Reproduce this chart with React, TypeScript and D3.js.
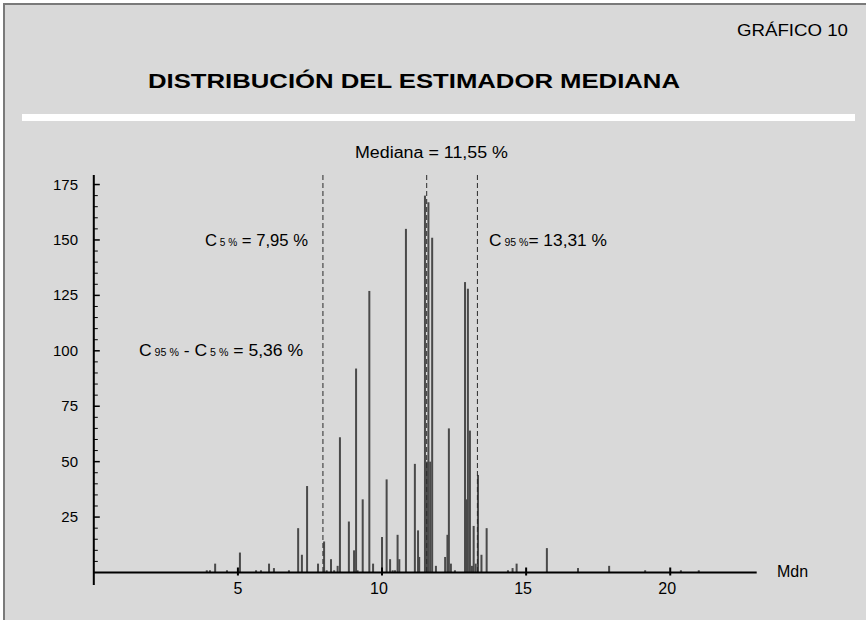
import React from "react";
import * as d3 from "d3";

// estimated medians (%) and how often each one came out
const medians = [
  3.92, 4.03, 4.21, 4.62, 5.07, 5.63, 5.8, 6.08, 6.25, 6.77, 7.09, 7.22, 7.4,
  7.78, 7.99, 8.08, 8.23, 8.34, 8.46, 8.54, 8.85, 9.03, 9.1, 9.15, 9.33, 9.56,
  9.69, 10.0, 10.16, 10.28, 10.37, 10.45, 10.54, 10.6, 10.83, 11.14, 11.25,
  11.29, 11.49, 11.56, 11.61, 11.67, 11.74, 11.87, 12.19, 12.27, 12.32, 12.39,
  12.53, 12.88, 12.93, 12.98, 13.05, 13.12, 13.18, 13.25, 13.33, 13.45, 13.63,
  14.37, 14.53, 14.67, 15.72, 16.8, 17.88, 19.13, 20.37, 20.99,
];
const counts = [
  1, 1, 4, 1, 9, 1, 1, 4, 2, 1, 20, 8, 39, 4, 14, 1, 6, 1, 3, 61, 23, 10, 92,
  1, 33, 127, 4, 16, 42, 6, 1, 1, 17, 6, 155, 49, 19, 7, 170, 50, 167, 50, 151,
  3, 7, 17, 65, 4, 1, 131, 33, 128, 64, 3, 21, 4, 44, 8, 20, 1, 2, 4, 11, 2, 3,
  1, 1, 1,
];

const xTicks = [5, 10, 15, 20];
const yTicks = [25, 50, 75, 100, 125, 150, 175];
const yMinor = d3.range(5, 180, 5);

const c5 = 7.95;
const median = 11.55;
const c95 = 13.31;

const font = "'Liberation Sans', Arial, sans-serif";

export default function App() {
  const x = d3.scaleLinear().domain([0, 23]).range([93.8, 756.7]);
  const y = d3.scaleLinear().domain([0, 179.3]).range([572.5, 175]);

  const dashed = [c5, median, c95];

  return (
    <svg
      width={866}
      height={620}
      style={{ position: "absolute", left: 0, top: 0 }}
      fontFamily={font}
    >
      <rect x={0} y={0} width={866} height={620} fill="#ffffff" />
      <rect x={4} y={4} width={870} height={630} fill="#d9d9d9" stroke="#7a7a7a" strokeWidth={2} />

      <text x={737} y={36} fontSize={16} textLength={111} lengthAdjust="spacingAndGlyphs" fill="#000">
        GRÁFICO 10
      </text>
      <text x={148} y={88} fontSize={20} fontWeight="bold" textLength={532} lengthAdjust="spacingAndGlyphs" fill="#000">
        DISTRIBUCIÓN DEL ESTIMADOR MEDIANA
      </text>
      <rect x={22} y={114} width={833} height={7} fill="#ffffff" />

      {/* bars */}
      <g fill="#4a4a4a">
        {medians.map((m, i) => (
          <rect
            key={i}
            x={x(m) - 1}
            y={y(counts[i])}
            width={2}
            height={y(0) - y(counts[i])}
          />
        ))}
      </g>

      {/* dashed reference lines */}
      {dashed.map((d, i) => (
        <line
          key={i}
          x1={x(d)}
          x2={x(d)}
          y1={175}
          y2={y(0)}
          stroke="#2a2a2a"
          strokeWidth={1}
          strokeDasharray="5,3"
        />
      ))}

      {/* y axis */}
      <line x1={x(0)} x2={x(0)} y1={175} y2={585} stroke="#000" strokeWidth={2} />
      {yMinor.map((t) => (
        <line
          key={t}
          x1={x(0)}
          x2={x(0) + (t % 25 === 0 ? 6 : 4)}
          y1={y(t)}
          y2={y(t)}
          stroke="#000"
          strokeWidth={t % 25 === 0 ? 1.5 : 1}
        />
      ))}
      {yTicks.map((t) => (
        <text key={t} x={78} y={y(t) + 5} fontSize={15} textAnchor="end" fill="#000">
          {t}
        </text>
      ))}

      {/* x axis */}
      <line x1={x(0)} x2={x(23)} y1={y(0)} y2={y(0)} stroke="#000" strokeWidth={2} />
      {xTicks.map((t) => (
        <g key={t}>
          <line x1={x(t)} x2={x(t)} y1={y(0) - 5} y2={y(0) + 3} stroke="#000" strokeWidth={2} />
          <text x={x(t) - (t >= 10 ? 3 : 0)} y={594} fontSize={16} textAnchor="middle" fill="#000">
            {t}
          </text>
        </g>
      ))}
      <text x={777} y={577} fontSize={16} fill="#000">
        Mdn
      </text>

      {/* annotations */}
      <text x={355} y={158} fontSize={16} textLength={153} lengthAdjust="spacingAndGlyphs" fill="#000">
        Mediana = 11,55 %
      </text>
      <text x={205} y={246} fontSize={16.5} textLength={103} lengthAdjust="spacingAndGlyphs" fill="#000">
        C<tspan fontSize={10}> 5 %</tspan> = 7,95 %
      </text>
      <text x={489} y={246} fontSize={16.5} textLength={118} lengthAdjust="spacingAndGlyphs" fill="#000">
        C<tspan fontSize={10}> 95 %</tspan>= 13,31 %
      </text>
      <text x={139} y={356} fontSize={16.5} textLength={164} lengthAdjust="spacingAndGlyphs" fill="#000">
        C<tspan fontSize={10}> 95 %</tspan> - C<tspan fontSize={10}> 5 %</tspan> ={"  "}5,36 %
      </text>
    </svg>
  );
}
